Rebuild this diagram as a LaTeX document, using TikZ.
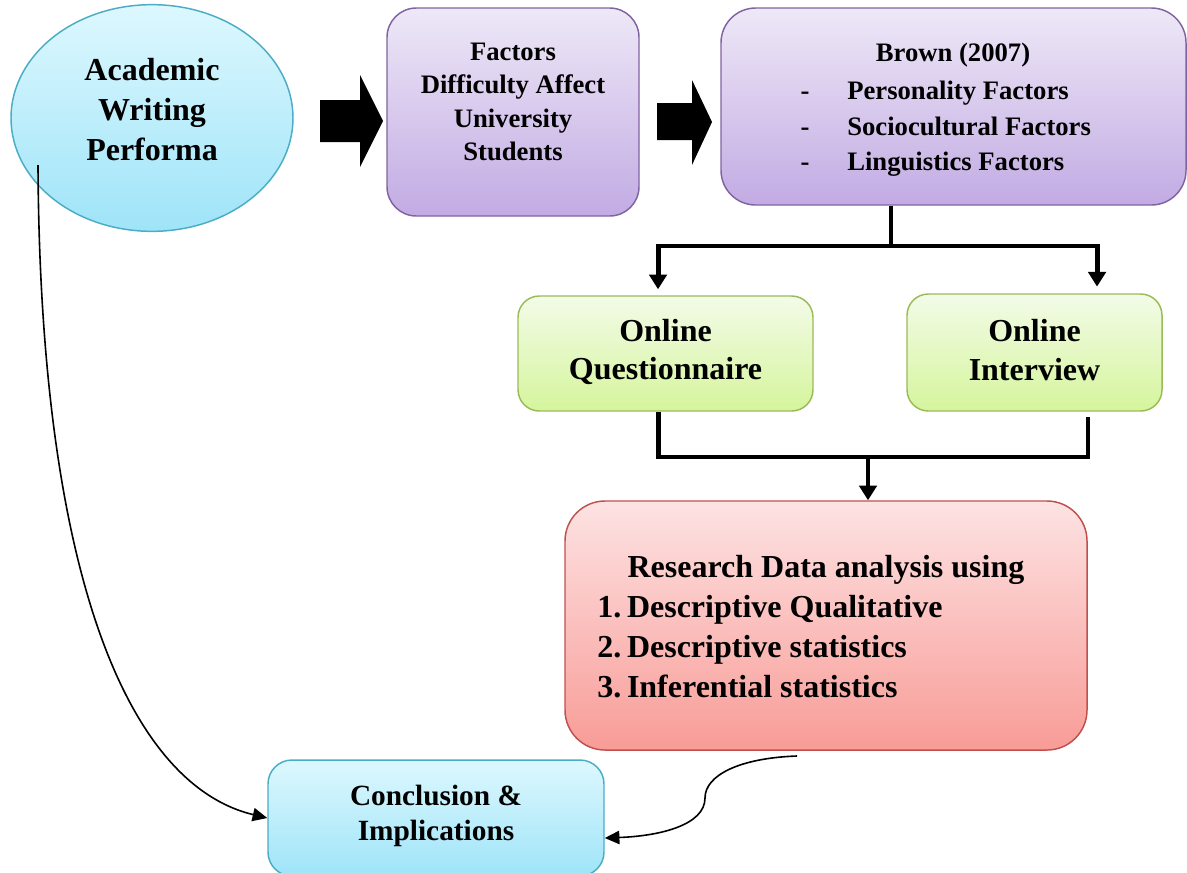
\documentclass[tikz,border=0pt]{standalone}
\usepackage{fontspec}
\setmainfont{Liberation Serif}
\usetikzlibrary{shapes.geometric,arrows.meta}
\definecolor{cyT}{HTML}{DDF8FE}
\definecolor{cyB}{HTML}{9FE4F8}
\definecolor{cyD}{HTML}{4BACC6}
\definecolor{puT}{HTML}{EEE8F7}
\definecolor{puB}{HTML}{C2ABE3}
\definecolor{puD}{HTML}{8064A2}
\definecolor{grT}{HTML}{F3FBE8}
\definecolor{grB}{HTML}{D5F59C}
\definecolor{grD}{HTML}{9BBB59}
\definecolor{rdT}{HTML}{FDE3E3}
\definecolor{rdB}{HTML}{F89C97}
\definecolor{rdD}{HTML}{C0504D}
\begin{document}
\begin{tikzpicture}[x=0.75pt,y=-0.75pt,
  shapebox/.style={draw, line width=1.1pt, inner sep=0pt},
  cyanbox/.style={shapebox, top color=cyT, bottom color=cyB, draw=cyD},
  purplebox/.style={shapebox, top color=puT, bottom color=puB, draw=puD},
  greenbox/.style={shapebox, top color=grT, bottom color=grB, draw=grD},
  redbox/.style={shapebox, top color=rdT, bottom color=rdB, draw=rdD},
  txt/.style={align=center, inner sep=0pt},
  fA/.style={font=\fontsize{24}{30}\selectfont\bfseries},
  fB/.style={font=\fontsize{20}{25}\selectfont\bfseries},
  fQ/.style={font=\fontsize{24}{29}\selectfont\bfseries},
  fC/.style={font=\fontsize{22}{26}\selectfont\bfseries},
  thickconn/.style={line width=3.7pt},
  thickarrow/.style={thickconn, -{Triangle[width=13pt,length=11pt]}},
  thinarrow/.style={line width=1.2pt, -{Triangle[width=10pt,length=11pt]}}
]
\useasboundingbox (0,0) rectangle (1187,872);
\clip (0,0) rectangle (1187,872);

% ellipse
\node[ellipse, cyanbox, minimum width=211.5pt, minimum height=170pt] (e) at (152,118) {};
\node[txt, fA] (et) at (152,110) {Academic\\Writing\\Performa};

% block arrows
\fill (320,100) -- (360,100) -- (360,75) -- (383,121) -- (360,167) -- (360,142) -- (320,142) -- cycle;
\fill (657,103) -- (692,103) -- (692,80) -- (712,122) -- (692,165) -- (692,140) -- (657,140) -- cycle;

% box 2
\node[purplebox, rounded corners=22pt, minimum width=189pt, minimum height=156pt] (b2) at (513,112) {};
\node[txt, fB] (b2t) at (513,102) {Factors\\Difficulty Affect\\University\\Students};

% box 3
\node[purplebox, rounded corners=26pt, minimum width=348.75pt, minimum height=147.75pt] (b3) at (953.5,106.5) {};
\node[txt, fB, anchor=base] (b3t) at (953,61) {Brown (2007)};
\node[txt, fB, anchor=base] (d1) at (805,99) {-};
\node[txt, fB, anchor=base] (d2) at (805,135) {-};
\node[txt, fB, anchor=base] (d3) at (805,170) {-};
\node[txt, fB, anchor=base west] (l1) at (847,99) {Personality Factors};
\node[txt, fB, anchor=base west] (l2) at (847,135) {Sociocultural Factors};
\node[txt, fB, anchor=base west] (l3) at (847,170) {Linguistics Factors};

% green boxes
\node[greenbox, rounded corners=16pt, minimum width=221.25pt, minimum height=86.25pt] (q) at (665.5,353.5) {};
\node[txt, fQ] (qt) at (665.5,352) {Online\\Questionnaire};
\node[greenbox, rounded corners=16pt, minimum width=191.25pt, minimum height=87.75pt] (i) at (1034.5,352.5) {};
\node[txt, fQ] (it) at (1034.5,350) {Online\\Interview};

% red box
\node[redbox, rounded corners=30pt, minimum width=391.5pt, minimum height=186.75pt] (r) at (826,625.5) {};
\node[txt, fA, anchor=base] (rt) at (826,577) {Research Data analysis using};
\node[txt, fA, anchor=base west] (r1) at (597,617) {1.\hspace{0.18em}Descriptive Qualitative};
\node[txt, fA, anchor=base west] (r2) at (597,657) {2.\hspace{0.18em}Descriptive statistics};
\node[txt, fA, anchor=base west] (r3) at (597,697) {3.\hspace{0.18em}Inferential statistics};

% conclusion box
\node[cyanbox, rounded corners=18pt, minimum width=252pt, minimum height=87pt] (c) at (436,818) {};
\node[txt, fC] (ct) at (436,816) {Conclusion \&\\Implications};

% thick connectors
\coordinate (sp) at (891,246);
\draw[thickconn] (b3.south -| sp) -- (sp);
\draw[thickarrow] (sp) -| ([xshift=-5.6pt,yshift=4.5pt]q.north);
\draw[thickarrow] (sp) -| ([xshift=46.9pt,yshift=5pt]i.north);
\coordinate (mg) at (868,457);
\draw[thickconn] ([xshift=-5.6pt]q.south) |- (mg) -| ([xshift=40.1pt,yshift=-3.7pt]i.south);
\draw[thickarrow] (mg) -- (mg |- r.north);

% thin curved connectors
\coordinate (s1) at (38,165);
\draw[thinarrow] (s1) .. controls (40,580) and (130,785) .. (c.west);
\coordinate (s2) at (797,756);
\draw[thinarrow] (s2) .. controls (740,758) and (705,775) .. (705,798) .. controls (705,825) and (660,836) .. ([yshift=-15pt]c.east);
\end{tikzpicture}
\end{document}
